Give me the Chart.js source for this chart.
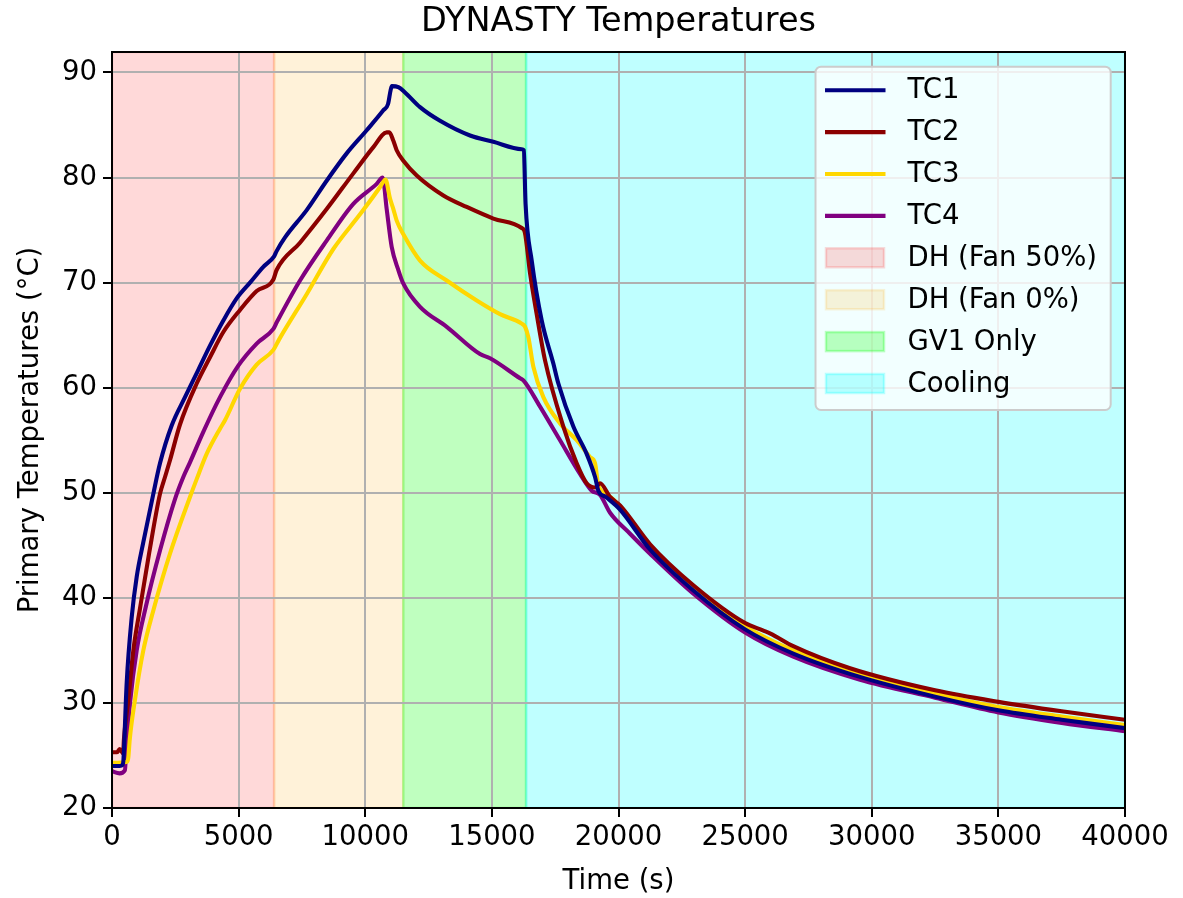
<!DOCTYPE html>
<html>
<head>
<meta charset="utf-8">
<title>DYNASTY Temperatures</title>
<script src="https://cdn.jsdelivr.net/npm/chart.js@4.4.1/dist/chart.umd.min.js"></script>
<style>
  html, body { margin: 0; padding: 0; background: #ffffff; }
</style>
</head>
<body>
<canvas id="chart" width="1183" height="898"></canvas>
<script>
// ── Data ─────────────────────────────────────────────────────────────
const tc1Time = [0, 300, 420, 450, 480, 580, 780, 975, 1237, 1632, 1895, 2357, 2883, 3409, 3870, 4397, 4923, 5450, 5976, 6400, 6500, 6832, 7687, 8477, 9267, 10057, 10714, 10900, 11000, 11050, 11307, 11570, 12163, 12953, 14137, 15058, 16178, 16260, 16330, 16573, 16968, 17427, 17625, 18217, 18743, 19074, 19205, 19500, 20061, 21246, 22956, 25000, 26900, 29500, 32500, 35000, 37500, 40000];
const tc1Temp = [24.0, 24.0, 24.1, 24.5, 26.0, 31.9, 38.2, 42.0, 45.3, 49.9, 52.8, 56.4, 59.1, 61.7, 64.0, 66.4, 68.5, 70.0, 71.5, 72.5, 73.0, 74.3, 76.9, 79.7, 82.3, 84.5, 86.4, 87.0, 88.3, 88.7, 88.6, 88.1, 86.7, 85.4, 84.0, 83.4, 82.7, 82.6, 77.5, 72.1, 66.4, 62.3, 60.4, 56.3, 53.7, 51.5, 50.2, 49.6, 48.4, 44.6, 40.7, 37.0, 34.7, 32.5, 30.6, 29.3, 28.4, 27.6];

const tc2Time = [0, 200, 300, 440, 470, 645, 842, 1106, 1470, 1895, 2093, 2290, 2685, 3344, 3870, 4397, 5055, 5713, 6371, 6500, 7424, 8477, 9530, 10320, 10846, 10950, 11110, 11241, 11505, 12032, 13084, 14006, 15058, 16178, 16300, 16507, 16770, 17099, 17823, 18349, 18743, 19074, 19271, 19666, 20061, 21246, 22956, 25000, 25700, 26000, 26900, 29143, 32500, 35000, 37500, 40000];
const tc2Temp = [25.3, 25.3, 25.6, 25.2, 26.5, 30.3, 35.0, 39.0, 44.3, 49.9, 51.5, 53.1, 56.5, 60.4, 62.9, 65.3, 67.4, 69.2, 70.3, 71.2, 73.8, 77.0, 80.4, 82.9, 84.3, 84.3, 83.5, 82.6, 81.6, 80.2, 78.3, 77.2, 76.1, 75.2, 74.8, 70.9, 67.0, 62.6, 56.3, 52.8, 50.9, 50.5, 50.9, 49.6, 48.8, 45.1, 41.2, 37.6, 36.9, 36.6, 35.4, 33.3, 31.2, 30.1, 29.2, 28.4];

const tc3Time = [0, 600, 645, 700, 908, 1237, 1632, 2290, 3080, 3344, 3738, 4265, 4462, 5055, 5713, 6371, 6600, 7687, 8740, 9793, 10583, 10714, 10800, 10978, 11110, 11241, 11505, 12163, 13217, 14401, 15322, 16178, 16310, 16441, 16638, 17033, 17691, 18349, 18876, 19074, 19205, 19535, 20061, 21246, 22956, 25000, 26900, 29500, 32500, 35000, 37500, 40000];
const tc3Temp = [24.3, 24.4, 24.8, 26.5, 30.3, 35.0, 38.8, 44.2, 49.6, 51.3, 53.7, 56.1, 56.9, 59.9, 62.2, 63.6, 64.6, 68.9, 73.2, 76.5, 79.1, 79.6, 79.8, 78.0, 77.0, 75.9, 74.6, 72.1, 70.2, 68.3, 67.0, 66.1, 65.8, 64.8, 62.0, 59.1, 56.6, 55.0, 53.4, 52.8, 50.7, 49.9, 48.7, 44.9, 41.0, 37.3, 35.0, 32.8, 30.9, 29.6, 28.7, 27.9];

const tc4Time = [0, 300, 510, 560, 711, 975, 1340, 1895, 2488, 2816, 3080, 3606, 4265, 4988, 5713, 6371, 6500, 7424, 8477, 9530, 10452, 10688, 10846, 11044, 11307, 11505, 12163, 13217, 14532, 14927, 16112, 16244, 16902, 17691, 18480, 18942, 19271, 19666, 20456, 21246, 22956, 25000, 26900, 29538, 32500, 35000, 37500, 40000];
const tc4Temp = [23.5, 23.3, 23.6, 25.5, 30.0, 35.0, 39.2, 44.5, 49.4, 51.5, 52.9, 55.8, 59.1, 62.1, 64.2, 65.6, 66.2, 70.2, 74.0, 77.5, 79.4, 80.0, 77.0, 73.4, 71.2, 69.9, 67.7, 65.8, 63.2, 62.8, 60.9, 60.7, 58.2, 55.0, 51.8, 50.2, 49.8, 48.1, 46.1, 44.2, 40.4, 36.7, 34.4, 32.2, 30.5, 29.1, 28.1, 27.3];

const seriesLabels = ['TC1', 'TC2', 'TC3', 'TC4'];

// test phases (shaded spans)
const phaseLabels = ['DH (Fan 50%)', 'DH (Fan 0%)', 'GV1 Only', 'Cooling'];
const phaseStart  = [0, 6400, 11500, 16350];
const phaseEnd    = [6400, 11500, 16350, 40000];

const xTickValues = [0, 5000, 10000, 15000, 20000, 25000, 30000, 35000, 40000];
const yTickValues = [20, 30, 40, 50, 60, 70, 80, 90];

const chartTitle = 'DYNASTY Temperatures';

// ── Styles ────────────────────────────────────────────────────────────
const FONT       = "'DejaVu Sans', sans-serif";
const FS         = 27.5;
const lineColors = ['#000080', '#8b0000', '#ffd700', '#800080'];
const phaseFill  = ['rgba(255,0,0,0.15)', 'rgba(255,165,0,0.15)', 'rgba(0,255,0,0.25)', 'rgba(0,255,255,0.25)'];

Chart.defaults.font.family = FONT;
Chart.defaults.color = '#000000';

function toPoints(xs, ys) {
  return xs.map((x, i) => ({ x: x, y: ys[i] }));
}

const seriesTimes = [tc1Time, tc2Time, tc3Time, tc4Time];
const seriesTemps = [tc1Temp, tc2Temp, tc3Temp, tc4Temp];

const datasets = seriesLabels.map((label, i) => ({
  label: label,
  data: toPoints(seriesTimes[i], seriesTemps[i]),
  borderColor: lineColors[i],
  backgroundColor: lineColors[i],
  borderWidth: 4.1,
  pointRadius: 0,
  cubicInterpolationMode: 'monotone',
  borderJoinStyle: 'round',
  fill: false,
}));

// ── Plugins ───────────────────────────────────────────────────────────

// shaded phase spans, painted under the grid
const phaseShading = {
  id: 'phaseShading',
  beforeDraw(chart) {
    const { ctx, chartArea: a, scales: { x } } = chart;
    ctx.save();
    ctx.beginPath();
    ctx.rect(a.left, a.top, a.right - a.left, a.bottom - a.top);
    ctx.clip();
    phaseLabels.forEach((lab, i) => {
      const x0 = x.getPixelForValue(phaseStart[i]);
      const x1 = x.getPixelForValue(phaseEnd[i]);
      ctx.fillStyle = phaseFill[i];
      ctx.fillRect(x0, a.top, x1 - x0, a.bottom - a.top);
      ctx.strokeStyle = phaseFill[i];
      ctx.lineWidth = 2.5;
      ctx.strokeRect(x0, a.top, x1 - x0, a.bottom - a.top);
    });
    ctx.restore();
  },
};

// black frame round the plot area + title centred over the axes
const frame = {
  id: 'frame',
  afterDatasetsDraw(chart) {
    const { ctx, chartArea: a } = chart;
    ctx.save();
    ctx.strokeStyle = '#000000';
    ctx.lineWidth = 2;
    ctx.strokeRect(a.left, a.top, a.right - a.left, a.bottom - a.top);

    ctx.font = '33.5px ' + FONT;
    ctx.fillStyle = '#000000';
    ctx.textAlign = 'center';
    ctx.textBaseline = 'middle';
    ctx.fillText(chartTitle, (a.left + a.right) / 2, a.top - 30);
    ctx.restore();
  },
};

// matplotlib-like legend box in the upper right corner
const legendBox = {
  id: 'legendBox',
  afterDraw(chart) {
    const { ctx, chartArea: a } = chart;
    ctx.save();
    ctx.font = FS + 'px ' + FONT;

    const items = chart.data.datasets.map(ds => ({ label: ds.label, kind: 'line', color: ds.borderColor }))
      .concat(phaseLabels.map((l, i) => ({ label: l, kind: 'patch', color: phaseFill[i] })));

    const textW  = Math.max(...items.map(it => ctx.measureText(it.label).width));
    const rowGap = 41.9;
    const width  = 92 + textW + 13.7;
    const height = 23.5 + (items.length - 1) * rowGap + 26.5;
    const right  = a.right - 14.3;
    const top    = a.top + 14.7;
    const left   = right - width;

    ctx.beginPath();
    ctx.roundRect(left, top, width, height, 5.5);
    ctx.fillStyle = 'rgba(255,255,255,0.8)';
    ctx.fill();
    ctx.strokeStyle = '#cccccc';
    ctx.lineWidth = 2;
    ctx.stroke();

    items.forEach((it, i) => {
      const cy = top + 23.5 + i * rowGap;
      if (it.kind === 'line') {
        ctx.beginPath();
        ctx.moveTo(left + 9.5, cy);
        ctx.lineTo(left + 70, cy);
        ctx.strokeStyle = it.color;
        ctx.lineWidth = 4.1;
        ctx.stroke();
      } else {
        ctx.fillStyle = it.color;
        ctx.fillRect(left + 10.5, cy - 9.5, 58, 19);
        ctx.strokeStyle = it.color;
        ctx.lineWidth = 2.5;
        ctx.strokeRect(left + 10.5, cy - 9.5, 58, 19);
      }
      ctx.fillStyle = '#000000';
      ctx.textAlign = 'left';
      ctx.textBaseline = 'middle';
      ctx.fillText(it.label, left + 92, cy + 1);
    });
    ctx.restore();
  },
};

// ── Chart ─────────────────────────────────────────────────────────────
new Chart(document.getElementById('chart'), {
  type: 'line',
  data: { datasets: datasets },
  plugins: [phaseShading, frame, legendBox],
  options: {
    responsive: false,
    animation: false,
    devicePixelRatio: 1,
    layout: { padding: { left: 0, right: 58, top: 52, bottom: 0 } },
    plugins: {
      legend: { display: false },
      tooltip: { enabled: false },
      title: { display: false },
    },
    scales: {
      x: {
        type: 'linear',
        min: 0,
        max: 40000,
        afterBuildTicks: (scale) => { scale.ticks = xTickValues.map(v => ({ value: v })); },
        afterFit: (scale) => { scale.height = 90; },
        ticks: {
          autoSkip: false,
          maxRotation: 0,
          padding: 4,
          font: { size: FS },
          callback: (v) => String(v),
        },
        grid: { color: '#b0b0b0', lineWidth: 2, tickColor: '#000000', tickLength: 9, tickWidth: 2 },
        border: { display: false },
        title: {
          display: true,
          text: 'Time (s)',
          font: { size: FS, lineHeight: 1.2 },
          padding: { top: 0, bottom: 0 },
        },
      },
      y: {
        type: 'linear',
        min: 20,
        max: 91.95,
        afterBuildTicks: (scale) => { scale.ticks = yTickValues.map(v => ({ value: v })); },
        afterFit: (scale) => { scale.width = 112; },
        ticks: {
          autoSkip: false,
          padding: 6,
          font: { size: FS },
          callback: (v) => String(v),
        },
        grid: { color: '#b0b0b0', lineWidth: 2, tickColor: '#000000', tickLength: 9, tickWidth: 2 },
        border: { display: false },
        title: {
          display: true,
          text: 'Primary Temperatures (°C)',
          font: { size: FS, lineHeight: 1.2 },
          padding: { top: 14, bottom: 0 },
        },
      },
    },
  },
});
</script>
</body>
</html>
